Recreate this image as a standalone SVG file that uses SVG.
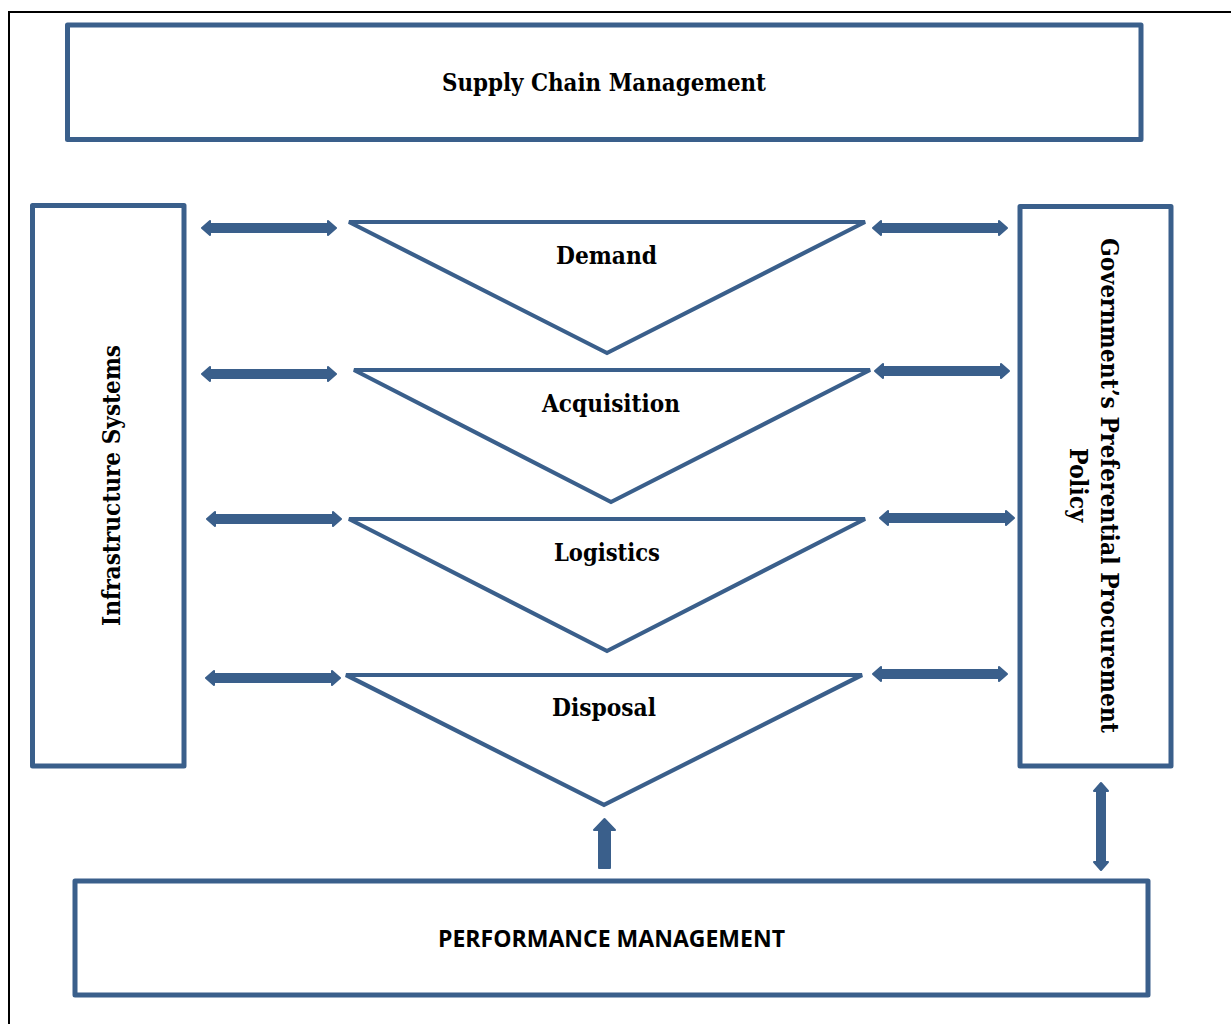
<svg xmlns="http://www.w3.org/2000/svg" width="1231" height="1024" viewBox="0 0 1231 1024">
  <style>
    .box { fill: #ffffff; stroke: #3a5f8b; stroke-width: 5; stroke-linejoin: round; }
    .tri { fill: #ffffff; stroke: #3a5f8b; stroke-width: 4.2; stroke-linejoin: miter; }
    .arrow { fill: #3a5f8b; stroke: #3a5f8b; stroke-width: 2; stroke-linejoin: round; }
    .serif { font-family: "DejaVu Serif", "Liberation Serif", serif; font-weight: bold; font-size: 24px; fill: #000000; }
    .sans { font-family: "Open Sans", "Liberation Sans", sans-serif; font-weight: bold; font-size: 24px; fill: #000000; }
  </style>
  <defs>
    <!-- horizontal double-headed arrow, 136 px long, centred on y=0 -->
    <path id="dbl-h" d="M1,0 L9,-7 L9,-4 L127,-4 L127,-7 L135,0 L127,7 L127,4 L9,4 L9,7 Z"/>
  </defs>

  <rect width="1231" height="1024" fill="#ffffff"/>
  <!-- page frame -->
  <rect x="9" y="12" width="1240" height="1040" fill="none" stroke="#000000" stroke-width="2"/>

  <g id="supply-chain-management">
    <rect class="box" x="67.5" y="25" width="1073.5" height="114.5"/>
    <text class="serif" x="604" y="91" text-anchor="middle" textLength="324" lengthAdjust="spacingAndGlyphs">Supply Chain Management</text>
  </g>

  <g id="infrastructure-systems">
    <rect class="box" x="32.5" y="205.5" width="151.5" height="560.5"/>
    <text class="serif" transform="translate(120,485.5) rotate(-90)" x="0" y="0" text-anchor="middle" textLength="281" lengthAdjust="spacingAndGlyphs">Infrastructure Systems</text>
  </g>

  <g id="preferential-procurement-policy">
    <rect class="box" x="1020" y="206.5" width="151" height="559.5"/>
    <text class="serif" transform="translate(1101,485.5) rotate(90)" x="0" y="0" text-anchor="middle" textLength="495" lengthAdjust="spacingAndGlyphs">Government’s Preferential Procurement</text>
    <text class="serif" transform="translate(1070,485) rotate(90)" x="0" y="0" text-anchor="middle" textLength="74" lengthAdjust="spacingAndGlyphs">Policy</text>
  </g>

  <g id="demand">
    <polygon class="tri" points="349,222 865,222 607,353"/>
    <text class="serif" x="606.5" y="264" text-anchor="middle" textLength="101" lengthAdjust="spacingAndGlyphs">Demand</text>
  </g>

  <g id="acquisition">
    <polygon class="tri" points="354,370 870,370 611,502"/>
    <text class="serif" x="611" y="412" text-anchor="middle" textLength="138" lengthAdjust="spacingAndGlyphs">Acquisition</text>
  </g>

  <g id="logistics">
    <polygon class="tri" points="349,519 865,519 607,651"/>
    <text class="serif" x="607" y="561" text-anchor="middle" textLength="106" lengthAdjust="spacingAndGlyphs">Logistics</text>
  </g>

  <g id="disposal">
    <polygon class="tri" points="346,675 862,675 604,805"/>
    <text class="serif" x="604" y="716" text-anchor="middle" textLength="104" lengthAdjust="spacingAndGlyphs">Disposal</text>
  </g>

  <g id="performance-management">
    <rect class="box" x="75" y="881" width="1073" height="114"/>
    <text class="sans" x="611.5" y="947" text-anchor="middle" textLength="347" lengthAdjust="spacingAndGlyphs">PERFORMANCE MANAGEMENT</text>
  </g>

  <g id="connectors">
    <!-- left column: infrastructure systems <-> stages -->
    <use class="arrow" href="#dbl-h" transform="translate(201,228)"/>
    <use class="arrow" href="#dbl-h" transform="translate(201,374)"/>
    <use class="arrow" href="#dbl-h" transform="translate(206,519)"/>
    <use class="arrow" href="#dbl-h" transform="translate(205,678)"/>
    <!-- right column: stages <-> procurement policy -->
    <use class="arrow" href="#dbl-h" transform="translate(872,228)"/>
    <use class="arrow" href="#dbl-h" transform="translate(874,371)"/>
    <use class="arrow" href="#dbl-h" transform="translate(879,518)"/>
    <use class="arrow" href="#dbl-h" transform="translate(872,674)"/>
    <!-- performance management -> disposal -->
    <path class="arrow" d="M604.5,819 L615,830 L610,830 L610,868 L599,868 L599,830 L594,830 Z"/>
    <!-- policy <-> performance management -->
    <path class="arrow" d="M1101,783 L1108,791 L1105,791 L1105,862 L1108,862 L1101,870 L1094,862 L1097,862 L1097,791 L1094,791 Z"/>
  </g>
</svg>
